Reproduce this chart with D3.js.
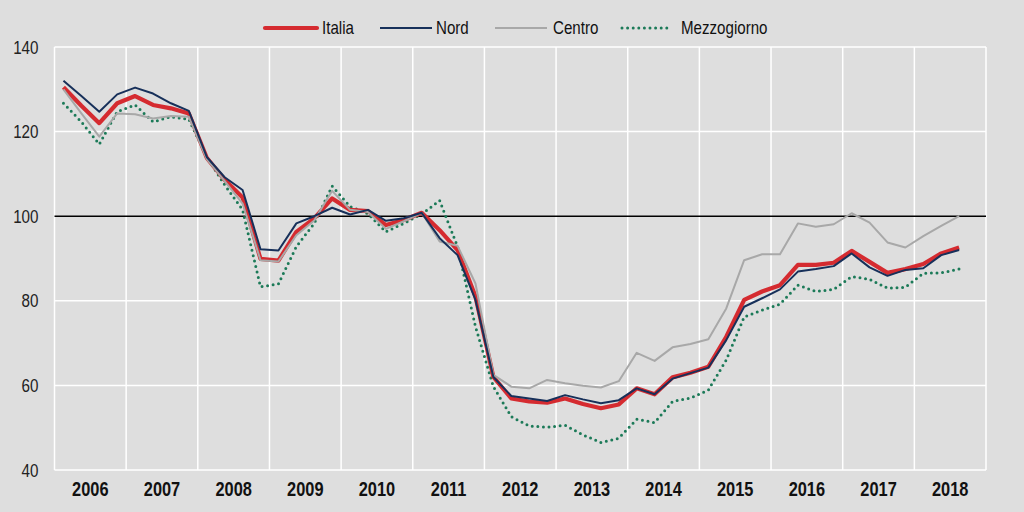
<!DOCTYPE html>
<html><head><meta charset="utf-8">
<script src="https://cdn.jsdelivr.net/npm/d3@7"></script>
<style>
html,body{margin:0;padding:0;background:#dedede;}
text{font-family:"Liberation Sans",Arial,sans-serif;}
</style></head>
<body>
<svg id="chart" width="1024" height="512"></svg>
<script>
const years = ["2006","2007","2008","2009","2010","2011","2012","2013","2014","2015","2016","2017","2018"];
const yTicks = [40,60,80,100,120,140];
const seriesNames = ["Italia","Nord","Centro","Mezzogiorno"];
const italia = [130.5,126.1,122,126.7,128.4,126.3,125.5,124.3,113.8,108.6,104.4,89.9,89.5,96.3,99.5,104.2,101.5,101.2,97.9,99.1,100.8,96.7,92,81,62,56.9,56.2,55.9,56.9,55.6,54.6,55.5,59.3,57.9,61.9,63,64.4,71.5,80.2,82.2,83.7,88.5,88.5,89,91.8,89.2,86.6,87.5,88.7,91.2,92.6];
const nord = [132,128.4,124.7,128.8,130.4,129,126.7,124.9,114,109.2,106.2,92.2,91.9,98.3,100,102,100.4,101.5,98.9,99.5,100.8,94.8,90.8,80.2,62,57.5,56.9,56.3,57.7,56.7,55.8,56.5,59.3,57.9,61.6,62.9,64.2,70.7,78.6,80.6,82.7,86.9,87.5,88.2,91.2,87.9,85.9,87.3,87.7,90.8,92];
const centro = [130,124.3,118.8,124.3,124.1,123.1,123.7,123.5,113.5,108.3,103,89.6,89.3,95.5,99,106,101.5,101,97,98.8,100.8,94,93,84.1,62.5,59.7,59.3,61.3,60.5,59.9,59.5,61,67.7,65.8,69,69.8,70.9,78.2,89.6,91,91,98.3,97.5,98.1,100.7,98.5,93.8,92.6,95.3,97.7,100];
const mezzogiorno = [126.7,122.3,117,124.7,126.3,122.3,123.5,122.9,114,107.4,101.5,83.3,84,92.8,98.3,107.1,102.3,100.6,96.3,98.3,100.5,103.7,92.8,73.9,59.7,52.6,50.4,50.1,50.6,48.3,46.5,47.5,52,51.2,56.2,57,58.9,66,76.2,77.8,79.2,83.7,82.2,82.7,85.7,85.1,83,83.2,86.5,86.6,87.5];

const svg = d3.select("#chart");
const L = 54.5, R = 986, T = 47, B = 470;
const nQ = years.length * 4;
const x = d3.scaleLinear().domain([0, nQ]).range([L, R]);
const xYear = d3.scaleBand().domain(years).range([L, R]).padding(0);
const y = d3.scaleLinear().domain([40, 140]).range([B, T]);
const SX = 0.8; // condensed look

svg.append("rect").attr("width",1024).attr("height",512).attr("fill","#dedede");

// grid
const g = svg.append("g");
g.selectAll(".hg").data(yTicks.filter(v => v !== 100)).enter().append("line")
  .attr("x1", L).attr("x2", R).attr("y1", d => y(d)).attr("y2", d => y(d))
  .attr("stroke", "#fff").attr("stroke-width", 1.5);
g.selectAll(".vg").data(d3.range(0, years.length + 1)).enter().append("line")
  .attr("x1", d => x(d*4)).attr("x2", d => x(d*4)).attr("y1", T).attr("y2", B)
  .attr("stroke", "#fff").attr("stroke-width", 1.5);
g.append("line").attr("x1", L).attr("x2", R).attr("y1", y(100)).attr("y2", y(100))
  .attr("stroke", "#000").attr("stroke-width", 1.5);

// axes
const ya = svg.append("g").attr("transform", `translate(${L},0)`)
  .call(d3.axisLeft(y).tickValues(yTicks).tickSize(0).tickPadding(16));
ya.select(".domain").remove();
ya.selectAll("text").attr("font-size", 19).attr("fill", "#222")
  .attr("x", -16 / SX).attr("transform", `scale(${SX},1)`);

const xa = svg.append("g").attr("transform", `translate(0,${B})`)
  .call(d3.axisBottom(xYear).tickSize(0).tickPadding(12));
xa.select(".domain").remove();
xa.selectAll("text").attr("font-size", 20).attr("font-weight", "bold").attr("fill", "#111")
  .attr("transform", `scale(${SX + 0.02},1)`);

// lines
const line = d3.line().x((d, i) => x(i + 0.5)).y(d => y(d));
const styles = {
  Italia: {data: italia, color: "#d52b30", width: 4.2, dash: null},
  Nord: {data: nord, color: "#17305a", width: 2, dash: null},
  Centro: {data: centro, color: "#a8a8a8", width: 2, dash: null},
  Mezzogiorno: {data: mezzogiorno, color: "#1c7a58", width: 3, dash: "0,5.6"}
};
const drawOrder = ["Mezzogiorno","Italia","Centro","Nord"];
drawOrder.forEach(name => {
  const s = styles[name];
  const p = svg.append("path").datum(s.data).attr("d", line)
    .attr("fill", "none").attr("stroke", s.color).attr("stroke-width", s.width)
    .attr("stroke-linejoin", "round");
  if (s.dash) p.attr("stroke-dasharray", s.dash).attr("stroke-linecap", "round");
});

// legend
const legendPos = {Italia: [265, 317, 322], Nord: [380, 432, 436], Centro: [495, 547, 553], Mezzogiorno: [622, 672, 681]};
const lg = svg.append("g");
seriesNames.forEach(name => {
  const s = styles[name], p = legendPos[name];
  const l = lg.append("line").attr("x1", p[0]).attr("x2", p[1]).attr("y1", 28).attr("y2", 28)
    .attr("stroke", s.color).attr("stroke-width", s.width);
  if (s.dash) l.attr("stroke-dasharray", s.dash).attr("stroke-linecap", "round");
  else if (name === "Italia") l.attr("stroke-linecap", "round");
  lg.append("text").attr("transform", `translate(${p[2]},28) scale(0.84,1)`).attr("dy", "0.35em")
    .attr("font-size", 18).attr("fill", "#111").text(name);
});
</script>
</body></html>
